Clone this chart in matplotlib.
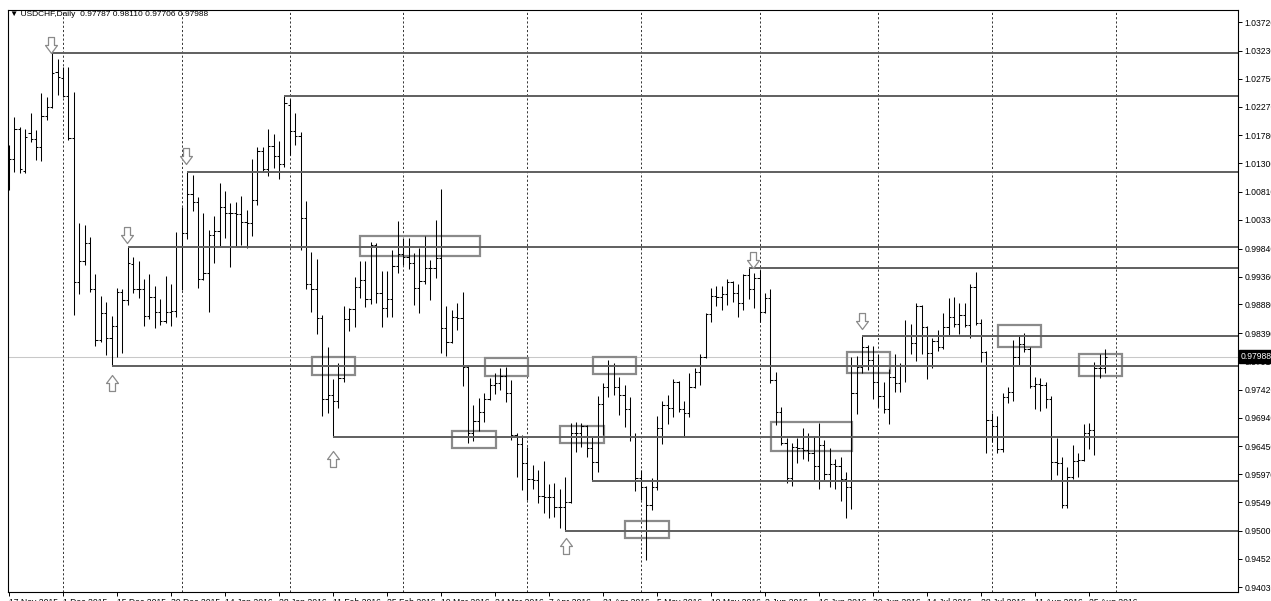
import matplotlib
matplotlib.use("Agg")
import matplotlib.pyplot as plt
from matplotlib.path import Path
from matplotlib.patches import Rectangle
from matplotlib.transforms import blended_transform_factory

plt.rcParams["font.family"] = ["Liberation Sans", "DejaVu Sans"]

# daily USDCHF bars, 17 Nov 2015 .. 30 Aug 2016
opens = [
    1.0118, 1.0137, 1.0189, 1.0117, 1.0182, 1.0172, 1.0158, 1.0211, 1.0226, 1.0286,
    1.0276, 1.0245, 1.0173, 0.9927, 0.9962, 0.9993, 0.9915, 0.9827, 0.9873, 0.9831,
    0.9851, 0.9909, 0.9896, 0.9957, 0.9915, 0.9915, 0.9868, 0.9901, 0.9875, 0.9860,
    0.9875, 0.9877, 0.9988, 1.0010, 1.0077, 1.0064, 0.9932, 0.9942, 1.0007, 1.0014,
    1.0055, 1.0045, 1.0045, 1.0043, 1.0029, 1.0028, 1.0067, 1.0151, 1.0120, 1.0160,
    1.0142, 1.0129, 1.0230, 1.0185, 1.0177, 1.0036, 0.9923, 0.9915, 0.9865, 0.9726,
    0.9733, 0.9722, 0.9762, 0.9863, 0.9880, 0.9918, 0.9930, 0.9897, 0.9990, 0.9908,
    0.9882, 0.9897, 0.9954, 0.9974, 0.9969, 0.9959, 0.9916, 0.9928, 0.9950, 0.9950,
    0.9968, 0.9848, 0.9824, 0.9867, 0.9865, 0.9781, 0.9668, 0.9688, 0.9704, 0.9726,
    0.9750, 0.9753, 0.9765, 0.9736, 0.9664, 0.9649, 0.9616, 0.9589, 0.9587, 0.9560,
    0.9558, 0.9558, 0.9541, 0.9541, 0.9550, 0.9668, 0.9668, 0.9680, 0.9642, 0.9618,
    0.9718, 0.9746, 0.9784, 0.9746, 0.9733, 0.9709, 0.9661, 0.9591, 0.9575, 0.9544,
    0.9575, 0.9676, 0.9716, 0.9711, 0.9755, 0.9709, 0.9702, 0.9746, 0.9772, 0.9798,
    0.9872, 0.9903, 0.9901, 0.9906, 0.9927, 0.9908, 0.9890, 0.9938, 0.9915, 0.9933,
    0.9875, 0.9899, 0.9759, 0.9704, 0.9651, 0.9591, 0.9644, 0.9642, 0.9639, 0.9634,
    0.9611, 0.9647, 0.9597, 0.9615, 0.9611, 0.9589, 0.9575, 0.9736, 0.9781, 0.9815,
    0.9793, 0.9755, 0.9731, 0.9709, 0.9764, 0.9753, 0.9784, 0.9834, 0.9822, 0.9885,
    0.9849, 0.9805, 0.9825, 0.9815, 0.9849, 0.9867, 0.9855, 0.9870, 0.9853, 0.9918,
    0.9856, 0.9806, 0.9690, 0.9680, 0.9640, 0.9729, 0.9738, 0.9798, 0.9820, 0.9812,
    0.9748, 0.9752, 0.9750, 0.9726, 0.9618, 0.9616, 0.9544, 0.9592, 0.9620, 0.9622,
    0.9668, 0.9673, 0.9779, 0.97787,
]
highs = [
    1.0161, 1.0209, 1.0192, 1.0189, 1.0216, 1.0187, 1.0250, 1.0244, 1.0319, 1.0309,
    1.0295, 1.0295, 1.0252, 1.0028, 1.0024, 1.0004, 0.9940, 0.9903, 0.9892, 0.9868,
    0.9916, 0.9915, 0.9987, 0.9969, 0.9962, 0.9932, 0.9940, 0.9920, 0.9897, 0.9937,
    0.9923, 1.0012, 1.0055, 1.0115, 1.0110, 1.0072, 1.0045, 1.0016, 1.0040, 1.0096,
    1.0082, 1.0062, 1.0064, 1.0074, 1.0050, 1.0137, 1.0158, 1.0158, 1.0189, 1.0180,
    1.0168, 1.0245, 1.0240, 1.0216, 1.0184, 1.0065, 0.9978, 0.9966, 0.9870, 0.9815,
    0.9760, 0.9788, 0.9885, 0.9882, 0.9935, 0.9962, 0.9962, 0.9995, 0.9993, 0.9945,
    0.9945, 0.9981, 1.0031, 1.0002, 1.0002, 0.9976, 0.9985, 1.0005, 0.9964, 1.0033,
    1.0086, 0.9885, 0.9878, 0.9890, 0.9909, 0.9784, 0.9715, 0.9728, 0.9736, 0.9762,
    0.9771, 0.9779, 0.9781, 0.9759, 0.9668, 0.9664, 0.9644, 0.9613, 0.9604, 0.9620,
    0.9580, 0.9582, 0.9572, 0.9592, 0.9685, 0.9687, 0.9685, 0.9682, 0.9661, 0.9731,
    0.9753, 0.9793, 0.9788, 0.9764, 0.9750, 0.9729, 0.9668, 0.9604, 0.9577, 0.9591,
    0.9697, 0.9722, 0.9733, 0.9760, 0.9757, 0.9722, 0.9771, 0.9779, 0.9803, 0.9873,
    0.9916, 0.9920, 0.9920, 0.9932, 0.9928, 0.9923, 0.9940, 0.9951, 0.9942, 0.9947,
    0.9908, 0.9915, 0.9772, 0.9712, 0.9659, 0.9651, 0.9659, 0.9676, 0.9668, 0.9663,
    0.9685, 0.9656, 0.9642, 0.9623, 0.9627, 0.9601, 0.9798, 0.9800, 0.9834, 0.9819,
    0.9817, 0.9803, 0.9755, 0.9777, 0.9803, 0.9788, 0.9861, 0.9855, 0.9890, 0.9887,
    0.9851, 0.9830, 0.9844, 0.9873, 0.9899, 0.9901, 0.9890, 0.9890, 0.9923, 0.9943,
    0.9863, 0.9808, 0.9702, 0.9697, 0.9736, 0.9746, 0.9827, 0.9836, 0.9839, 0.9815,
    0.9764, 0.9762, 0.9755, 0.9731, 0.9659, 0.9627, 0.9609, 0.9647, 0.9634, 0.9683,
    0.9685, 0.9789, 0.9803, 0.98110,
]
lows = [
    1.0084, 1.0115, 1.0113, 1.0113, 1.0166, 1.0136, 1.0134, 1.0204, 1.0225, 1.0247,
    1.0244, 1.0170, 0.9870, 0.9906, 0.9956, 0.9909, 0.9817, 0.9824, 0.9802, 0.9783,
    0.9798, 0.9805, 0.9887, 0.9908, 0.9899, 0.9851, 0.9863, 0.9848, 0.9853, 0.9856,
    0.9851, 0.9867, 0.9913, 1.0000, 1.0048, 0.9916, 0.9930, 0.9875, 0.9959, 0.9988,
    1.0002, 0.9952, 0.9987, 0.9990, 0.9985, 1.0005, 1.0058, 1.0115, 1.0108, 1.0122,
    1.0103, 1.0124, 1.0144, 1.0161, 0.9981, 0.9915, 0.9875, 0.9837, 0.9697, 0.9702,
    0.9660, 0.9711, 0.9755, 0.9843, 0.9849, 0.9899, 0.9884, 0.9889, 0.9890, 0.9849,
    0.9867, 0.9867, 0.9942, 0.9956, 0.9949, 0.9887, 0.9873, 0.9923, 0.9896, 0.9933,
    0.9805, 0.9800, 0.9822, 0.9844, 0.9748, 0.9651, 0.9654, 0.9671, 0.9687, 0.9724,
    0.9735, 0.9741, 0.9721, 0.9656, 0.9592, 0.9570, 0.9553, 0.9572, 0.9548, 0.9531,
    0.9522, 0.9524, 0.9505, 0.9500, 0.9548, 0.9635, 0.9644, 0.9627, 0.9586, 0.9601,
    0.9664, 0.9729, 0.9733, 0.9699, 0.9678, 0.9654, 0.9568, 0.9553, 0.9450, 0.9536,
    0.9570, 0.9649, 0.9683, 0.9695, 0.9704, 0.9661, 0.9695, 0.9744, 0.9750, 0.9796,
    0.9858, 0.9885, 0.9878, 0.9887, 0.9892, 0.9867, 0.9878, 0.9897, 0.9882, 0.9858,
    0.9873, 0.9753, 0.9682, 0.9647, 0.9582, 0.9577, 0.9616, 0.9623, 0.9620, 0.9587,
    0.9572, 0.9587, 0.9575, 0.9572, 0.9551, 0.9522, 0.9538, 0.9700, 0.9771, 0.9776,
    0.9726, 0.9712, 0.9702, 0.9683, 0.9738, 0.9738, 0.9755, 0.9803, 0.9791, 0.9803,
    0.9760, 0.9779, 0.9808, 0.9812, 0.9834, 0.9849, 0.9837, 0.9849, 0.9830, 0.9853,
    0.9789, 0.9634, 0.9652, 0.9634, 0.9635, 0.9719, 0.9722, 0.9784, 0.9806, 0.9745,
    0.9709, 0.9706, 0.9711, 0.9587, 0.9596, 0.9539, 0.9539, 0.9589, 0.9592, 0.9620,
    0.9640, 0.9630, 0.9762, 0.97706,
]
closes = [
    1.0137, 1.0189, 1.0120, 1.0175, 1.0172, 1.0158, 1.0211, 1.0226, 1.0285, 1.0278,
    1.0245, 1.0173, 0.9927, 0.9962, 0.9993, 0.9915, 0.9827, 0.9873, 0.9831, 0.9851,
    0.9909, 0.9896, 0.9959, 0.9915, 0.9915, 0.9868, 0.9901, 0.9875, 0.9860, 0.9875,
    0.9877, 0.9988, 1.0010, 1.0077, 1.0064, 0.9932, 0.9942, 1.0007, 1.0014, 1.0055,
    1.0045, 1.0045, 1.0043, 1.0029, 1.0028, 1.0067, 1.0151, 1.0120, 1.0160, 1.0142,
    1.0129, 1.0233, 1.0185, 1.0177, 1.0036, 0.9923, 0.9915, 0.9865, 0.9726, 0.9733,
    0.9722, 0.9762, 0.9863, 0.9880, 0.9918, 0.9930, 0.9897, 0.9990, 0.9908, 0.9882,
    0.9897, 0.9954, 0.9974, 0.9969, 0.9959, 0.9916, 0.9928, 0.9950, 0.9950, 0.9968,
    0.9848, 0.9824, 0.9867, 0.9865, 0.9781, 0.9668, 0.9688, 0.9704, 0.9726, 0.9750,
    0.9753, 0.9765, 0.9736, 0.9664, 0.9649, 0.9616, 0.9589, 0.9587, 0.9560, 0.9558,
    0.9558, 0.9541, 0.9541, 0.9550, 0.9668, 0.9668, 0.9680, 0.9642, 0.9618, 0.9718,
    0.9746, 0.9784, 0.9746, 0.9733, 0.9709, 0.9661, 0.9591, 0.9575, 0.9544, 0.9575,
    0.9676, 0.9716, 0.9711, 0.9755, 0.9709, 0.9702, 0.9746, 0.9772, 0.9798, 0.9872,
    0.9903, 0.9901, 0.9906, 0.9927, 0.9908, 0.9890, 0.9938, 0.9915, 0.9933, 0.9875,
    0.9899, 0.9759, 0.9704, 0.9651, 0.9591, 0.9644, 0.9642, 0.9639, 0.9634, 0.9611,
    0.9647, 0.9597, 0.9615, 0.9611, 0.9589, 0.9575, 0.9736, 0.9781, 0.9815, 0.9793,
    0.9755, 0.9731, 0.9709, 0.9764, 0.9753, 0.9784, 0.9834, 0.9822, 0.9885, 0.9849,
    0.9805, 0.9825, 0.9815, 0.9849, 0.9867, 0.9855, 0.9870, 0.9853, 0.9918, 0.9856,
    0.9806, 0.9690, 0.9680, 0.9640, 0.9729, 0.9738, 0.9798, 0.9820, 0.9812, 0.9748,
    0.9752, 0.9750, 0.9726, 0.9618, 0.9616, 0.9544, 0.9592, 0.9620, 0.9622, 0.9668,
    0.9673, 0.9779, 0.9779, 0.97988,
]

date_labels = [
    "17 Nov 2015", "1 Dec 2015", "15 Dec 2015", "30 Dec 2015", "14 Jan 2016",
    "28 Jan 2016", "11 Feb 2016", "25 Feb 2016", "10 Mar 2016", "24 Mar 2016",
    "7 Apr 2016", "21 Apr 2016", "5 May 2016", "19 May 2016", "2 Jun 2016",
    "16 Jun 2016", "30 Jun 2016", "14 Jul 2016", "28 Jul 2016", "11 Aug 2016",
    "25 Aug 2016",
]
month_starts = [10, 32, 52, 73, 96, 117, 139, 161, 182, 205]  # bar index of 1st bar of month
price_ticks = [1.03720, 1.03230, 1.02750, 1.02270, 1.01780, 1.01300, 1.00810,
               1.00330, 0.99840, 0.99360, 0.98880, 0.98390, 0.97910, 0.97420,
               0.96940, 0.96450, 0.95970, 0.95490, 0.95000, 0.94520, 0.94030]

# drawn objects: (start bar, level)
levels = [(8, 1.0319), (51, 1.0245), (33, 1.0115), (22, 0.9987), (137, 0.9951),
          (158, 0.9834), (19, 0.9783), (60, 0.9660), (108, 0.9586), (103, 0.9500)]
# boxes: (bar from, bar to, low, high)
boxes = [(65.0, 87.2, 0.9972, 1.0005), (56.1, 64.1, 0.9767, 0.9798),
         (88.1, 96.1, 0.9765, 0.9796), (82.0, 90.2, 0.9642, 0.9671),
         (108.1, 116.1, 0.9769, 0.9798), (102.0, 110.2, 0.9651, 0.9680),
         (114.1, 122.2, 0.9487, 0.9517), (141.1, 156.2, 0.9637, 0.9687),
         (155.1, 163.1, 0.9771, 0.9806), (183.1, 191.2, 0.9815, 0.9853),
         (198.1, 206.2, 0.9765, 0.9803)]
down_arrows = [(7.7, 1.0333), (32.8, 1.0142), (21.8, 1.0007), (137.8, 0.9965), (158.0, 0.9859)]
up_arrows = [(19.0, 0.9753), (60.0, 0.9623), (103.1, 0.9474)]
last_price = 0.97988

W, H = 1271, 601
fig = plt.figure(figsize=(W / 100, H / 100), dpi=100)
ax = fig.add_axes([8 / W, (H - 592) / H, (1238 - 8) / W, (592 - 10) / H])

n = len(opens)
xs = list(range(n))
ax.vlines(xs, lows, highs, color="black", lw=0.75)
ax.hlines(opens, [i - 0.4 for i in xs], xs, color="black", lw=0.75)
ax.hlines(closes, xs, [i + 0.4 for i in xs], color="black", lw=0.75)

xmax = 227.6
for m in month_starts:
    ax.axvline(m, color="#333333", lw=0.7, ls=(0, (2.2, 2.2)), zorder=0)

ax.axhline(last_price, color="#c8c8c8", lw=0.75, zorder=0)

for start, lvl in levels:
    ax.plot([start, xmax], [lvl, lvl], color="#5f5f5f", lw=1.4, solid_capstyle="butt")

for b0, b1, lo, hi in boxes:
    ax.add_patch(Rectangle((b0, lo), b1 - b0, hi - lo, fill=False,
                           ec="#8a8a8a", lw=1.6))

down = Path([(-3, 8), (3, 8), (3, 0), (6, 0), (0, -8), (-6, 0), (-3, 0), (-3, 8)])
up = Path([(-3, -8), (3, -8), (3, 0), (6, 0), (0, 8), (-6, 0), (-3, 0), (-3, -8)])
ax.plot([a[0] for a in down_arrows], [a[1] for a in down_arrows], ls="none",
        marker=down, ms=11.5, mfc="white", mec="#8a8a8a", mew=0.9)
ax.plot([a[0] for a in up_arrows], [a[1] for a in up_arrows], ls="none",
        marker=up, ms=11.5, mfc="white", mec="#8a8a8a", mew=0.9)

ax.set_xlim(-0.19, xmax)
ax.set_ylim(0.9395, 1.0393)

ax.yaxis.tick_right()
ax.set_yticks(price_ticks)
ax.set_yticklabels(["%.5f" % p for p in price_ticks])
ax.tick_params(axis="y", length=3, width=0.7, pad=1.5, labelsize=6.2)
ax.set_xticks(list(range(0, n, 10))[:len(date_labels)])
ax.set_xticklabels(date_labels, ha="left")
ax.tick_params(axis="x", length=3, width=0.7, pad=1, labelsize=6.2)
for s in ax.spines.values():
    s.set_linewidth(0.8)

tr = blended_transform_factory(ax.transAxes, ax.transData)
ax.text(1.002, last_price, "%.5f" % last_price, transform=tr, ha="left", va="center",
        color="white", fontsize=6.2, clip_on=False,
        bbox=dict(boxstyle="square,pad=0.2", fc="black", ec="black"))

fig.text(10 / W, 1 - 15 / H, "\u25bc USDCHF,Daily  0.97787 0.98110 0.97706 0.97988",
         fontsize=6, va="center", ha="left")

fig.savefig("out.png", dpi=100)
